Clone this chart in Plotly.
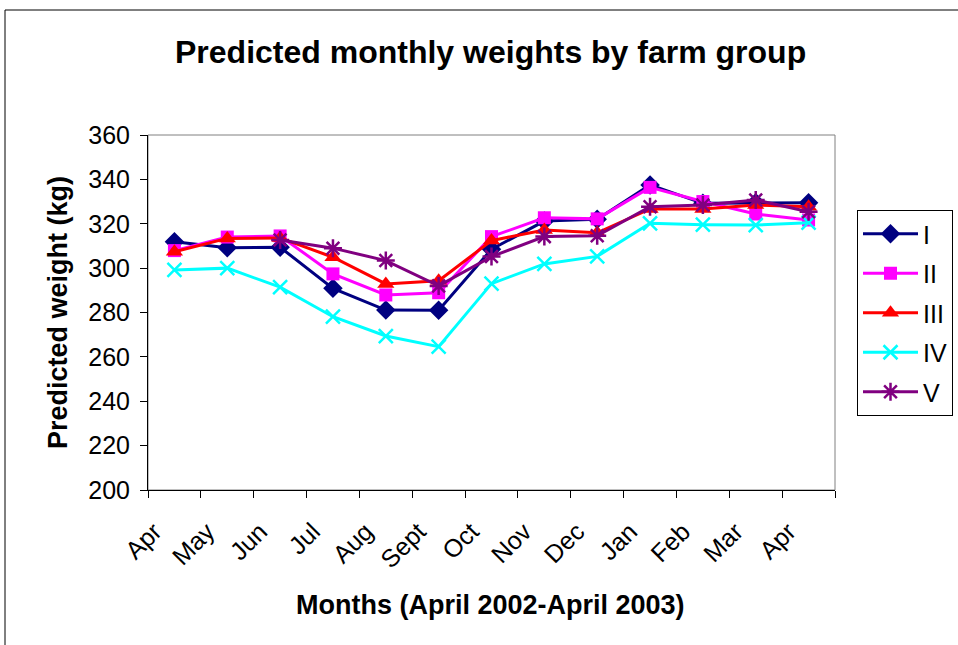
import plotly.graph_objects as go

months = ["Apr02", "May", "Jun", "Jul", "Aug", "Sept", "Oct", "Nov", "Dec", "Jan", "Feb", "Mar", "Apr03"]
month_labels = ["Apr", "May", "Jun", "Jul", "Aug", "Sept", "Oct", "Nov", "Dec", "Jan", "Feb", "Mar", "Apr"]

group_I = [311.9, 309.2, 309.4, 290.9, 281.1, 281.0, 308.5, 321.2, 322.0, 337.5, 329.2, 329.5, 329.5]
group_II = [307.9, 314.0, 314.5, 297.4, 287.9, 288.9, 314.2, 322.7, 322.2, 336.4, 330.0, 324.4, 321.7]
group_III = [307.4, 313.4, 313.6, 304.9, 292.9, 294.3, 312.4, 317.2, 315.9, 326.7, 326.7, 328.4, 327.7]
group_IV = [299.2, 300.0, 291.4, 278.1, 269.4, 264.6, 293.0, 301.9, 305.3, 320.2, 319.6, 319.4, 320.5]
group_V = [None, None, 312.7, 309.0, 303.4, 292.0, 305.2, 314.2, 314.6, 327.7, 328.4, 330.7, 325.4]

y_ticks = [200, 220, 240, 260, 280, 300, 320, 340, 360]

FONT = "Liberation Sans, Arial, sans-serif"

series = [
    ("I", group_I, "#000080", "diamond", 15),
    ("II", group_II, "#FF00FF", "square", 13),
    ("III", group_III, "#FF0000", "triangle-up", 15),
    ("IV", group_IV, "#00FFFF", "x-thin-open", 14),
    ("V", group_V, "#800080", "asterisk-open", 15),
]

fig = go.Figure()
for name, vals, color, sym, size in series:
    fig.add_trace(go.Scatter(
        x=months, y=vals, name=name, mode="lines+markers",
        legendgroup=name,
        line=dict(color=color, width=3),
        marker=dict(symbol=sym, size=size, color=color,
                    line=dict(color=color, width=2.5 if "open" in sym else 0)),
        connectgaps=False,
    ))

W, H = 958, 645
L, R, T, B = 148, 835, 135, 490
pw, ph = R - L, B - T

def px(x):
    return (x - L) / pw

def py(y):
    return (B - y) / ph

fig.update_layout(
    width=W, height=H,
    margin=dict(l=L, r=W - R, t=T, b=H - B, pad=0, autoexpand=False),
    paper_bgcolor="white", plot_bgcolor="white",
    font=dict(family=FONT, color="black", size=24),
    showlegend=True,
    legend=dict(
        x=px(857), y=py(210), xanchor="left", yanchor="top",
        bordercolor="black", borderwidth=1, bgcolor="white",
        font=dict(size=25, family=FONT, color="black"),
        tracegroupgap=4, itemwidth=55,
    ),
    xaxis=dict(
        type="category", categoryorder="array", categoryarray=months,
        tickmode="array", tickvals=months, ticktext=month_labels,
        tickangle=-45, tickson="boundaries",
        ticks="outside", ticklen=7, tickcolor="black", tickwidth=1,
        ticklabelstandoff=16, ticklabelshift=-20,
        showline=True, linecolor="black", linewidth=1,
        showgrid=False, zeroline=False,
        tickfont=dict(size=25, family=FONT, color="black"),
        range=[-0.5, 12.5],
    ),
    yaxis=dict(
        range=[200, 360], tickmode="array", tickvals=y_ticks,
        ticks="outside", ticklen=7, tickcolor="black", tickwidth=1,
        ticklabelstandoff=5,
        showline=True, linecolor="black", linewidth=1,
        showgrid=False, zeroline=False,
        tickfont=dict(size=25, family=FONT, color="black"),
    ),
    shapes=[
        dict(type="rect", xref="paper", yref="paper", x0=0, x1=1, y0=0, y1=1,
             line=dict(color="#808080", width=1), layer="below"),
        dict(type="rect", xref="paper", yref="paper",
             x0=px(5), x1=px(970), y0=py(660), y1=py(10),
             line=dict(color="black", width=1), layer="below"),
    ],
    annotations=[
        dict(text="<b>Predicted monthly weights by farm group</b>", xref="paper", yref="paper",
             x=px(490), y=py(52), xanchor="center", yanchor="middle", showarrow=False,
             font=dict(size=32, family=FONT, color="black")),
        dict(text="<b>Predicted weight (kg)</b>", xref="paper", yref="paper",
             x=px(58), y=py(313), xanchor="center", yanchor="middle", showarrow=False,
             textangle=-90, font=dict(size=27, family=FONT, color="black")),
        dict(text="<b>Months (April 2002-April 2003)</b>", xref="paper", yref="paper",
             x=px(490), y=py(605), xanchor="center", yanchor="middle", showarrow=False,
             font=dict(size=27, family=FONT, color="black")),
    ],
)

fig.write_html("out.html",
               config={"displayModeBar": False},
               post_script="document.body.style.margin='0';document.body.style.overflow='hidden';")
